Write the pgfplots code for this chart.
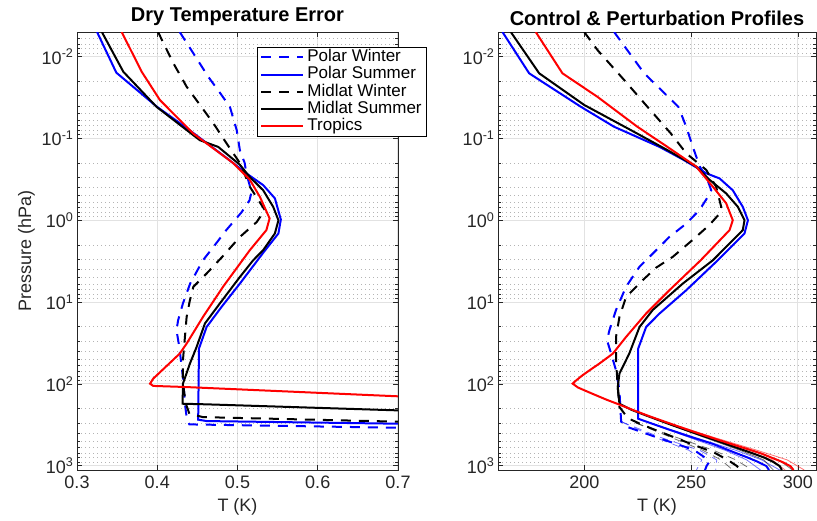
\documentclass[border=0pt]{standalone}
\usepackage{pgfplots}
\pgfplotsset{compat=1.18}
\usepackage{fontspec}
\setmainfont{Liberation Sans}

\definecolor{axgray}{RGB}{38,38,38}
\definecolor{gridgray}{RGB}{226,226,226}
\definecolor{dotgray}{RGB}{180,180,180}

\begin{document}
\begin{tikzpicture}[x=1pt,y=1pt]
\useasboundingbox (0,0) rectangle (817,520);

% ---------------- dry temperature error ----------------
\begin{axis}[
  at={(77pt,50pt)}, anchor=south west,
  scale only axis, width=321pt, height=438pt,
  ymode=log, y dir=reverse, ymin=0.005, ymax=1130,
  ytick={0.01,0.1,1,10,100,1000},
  yticklabels={10\textsuperscript{-2},10\textsuperscript{-1},10\textsuperscript{0},10\textsuperscript{1},10\textsuperscript{2},10\textsuperscript{3}},
  minor ytick={0.006,0.007,0.008,0.009,0.02,0.03,0.04,0.05,0.06,0.07,0.08,0.09,
               0.2,0.3,0.4,0.5,0.6,0.7,0.8,0.9,2,3,4,5,6,7,8,9,
               20,30,40,50,60,70,80,90,200,300,400,500,600,700,800,900},
  xmin=0.3, xmax=0.7,
  xtick={0.3,0.4,0.5,0.6,0.7}, xticklabels={0.3,0.4,0.5,0.6,0.7},
  tick align=inside, major tick length=5pt, minor tick length=3pt,
  xmajorgrids, ymajorgrids, yminorgrids,
  major grid style={gridgray, line width=1pt},
  minor grid style={dotgray, line width=0.7pt, dash pattern=on 0.8pt off 3.2pt},
  axis line style={axgray, line width=0.7pt},
  tick style={axgray, line width=0.7pt},
  tick label style={font=\fontsize{18}{20}\selectfont, text=axgray},
  xticklabel style={yshift=-2pt},
  xlabel style={font=\fontsize{18}{20}\selectfont, text=axgray, yshift=-3pt},
  ylabel style={font=\fontsize{18}{20}\selectfont, text=axgray},
  title style={font=\bfseries\fontsize{20}{22}\selectfont, yshift=-3pt},
  xlabel={T (K)},
  ylabel={Pressure (hPa)},
  title={Dry Temperature Error},
  legend style={at={(0.561,0.9658)}, anchor=north west, draw=black,
    line width=0.6pt, fill=white, font=\fontsize{17}{18}\selectfont,
    inner xsep=3pt, inner ysep=1.5pt, row sep=0pt, column sep=1pt,
    nodes={inner xsep=2pt, inner ysep=1pt, text height=12pt, text depth=3.2pt}},
  legend cell align=left,
  legend image code/.code={\draw[#1, line width=2pt] (0pt,0pt) -- (42pt,0pt);},
]
\addplot[blue, line width=2pt, dash pattern=on 10pt off 8pt] coordinates {
 (0.428,0.005) (0.449,0.0105) (0.4635,0.0176) (0.4785,0.028) (0.4905,0.041)
 (0.499,0.079) (0.503,0.14) (0.509,0.20) (0.511,0.267) (0.5175,0.45)
 (0.515,0.57) (0.505,0.80) (0.486,1.32) (0.470,2.12) (0.457,3.08)
 (0.441,5.94) (0.432,10.4) (0.426,16.7) (0.424,22.1) (0.4275,35.5)
 (0.432,82.6) (0.4345,175) (0.4366,255) (0.44,313) (0.70,344) (0.80,350)};
\addlegendentry{Polar Winter}
\addplot[blue, line width=2pt] coordinates {
 (0.325,0.005) (0.349,0.0157) (0.3996,0.041) (0.437,0.075) (0.487,0.175)
 (0.511,0.267) (0.532,0.372) (0.5466,0.54) (0.554,0.98) (0.551,1.45)
 (0.532,2.5) (0.503,5.94) (0.480,11.5) (0.4615,20.2) (0.452,37)
 (0.451,274) (0.4615,285) (0.70,307) (0.80,310)};
\addlegendentry{Polar Summer}
\addplot[black, line width=2pt, dash pattern=on 10pt off 8pt] coordinates {
 (0.401,0.005) (0.420,0.012) (0.4366,0.0233) (0.4698,0.065) (0.4864,0.115)
 (0.503,0.20) (0.5154,0.39) (0.534,0.75) (0.524,1.05) (0.503,1.6)
 (0.481,2.8) (0.4615,4.48) (0.445,6.5) (0.4407,9.5) (0.4366,15.2)
 (0.4345,26.7) (0.432,51.5) (0.432,99.5) (0.4357,175) (0.44,232)
 (0.457,255) (0.70,290) (0.80,292)};
\addlegendentry{Midlat Winter}
\addplot[black, line width=2pt] coordinates {
 (0.331,0.005) (0.3577,0.0153) (0.399,0.041) (0.453,0.105) (0.476,0.127)
 (0.503,0.21) (0.515,0.294) (0.532,0.43) (0.5445,0.686) (0.551,1.0)
 (0.5466,1.45) (0.532,2.32) (0.5196,3.08) (0.503,4.93) (0.478,10.4)
 (0.4594,18.3) (0.449,35.5) (0.4407,56.6) (0.432,99.5) (0.4316,175)
 (0.4615,178) (0.70,211) (0.80,215)};
\addlegendentry{Midlat Summer}
\addplot[red, line width=2pt] coordinates {
 (0.3557,0.005) (0.3806,0.0153) (0.4034,0.034) (0.4448,0.087) (0.4946,0.20)
 (0.5154,0.32) (0.528,0.52) (0.540,0.95) (0.536,1.32) (0.5154,2.32)
 (0.482,6.5) (0.457,15.2) (0.4366,32.2) (0.428,42.7) (0.395,86.3)
 (0.391,99.5) (0.395,106) (0.432,109) (0.70,142) (0.80,146)};
\addlegendentry{Tropics}
\end{axis}

% ---------------- control and perturbation profiles ----------------
\begin{axis}[
  at={(498pt,50pt)}, anchor=south west,
  scale only axis, width=318pt, height=438pt,
  ymode=log, y dir=reverse, ymin=0.005, ymax=1130,
  ytick={0.01,0.1,1,10,100,1000},
  yticklabels={10\textsuperscript{-2},10\textsuperscript{-1},10\textsuperscript{0},10\textsuperscript{1},10\textsuperscript{2},10\textsuperscript{3}},
  minor ytick={0.006,0.007,0.008,0.009,0.02,0.03,0.04,0.05,0.06,0.07,0.08,0.09,
               0.2,0.3,0.4,0.5,0.6,0.7,0.8,0.9,2,3,4,5,6,7,8,9,
               20,30,40,50,60,70,80,90,200,300,400,500,600,700,800,900},
  xmin=159.5, xmax=308.5,
  xtick={200,250,300}, xticklabels={200,250,300},
  tick align=inside, major tick length=5pt, minor tick length=3pt,
  xmajorgrids, ymajorgrids, yminorgrids,
  major grid style={gridgray, line width=1pt},
  minor grid style={dotgray, line width=0.7pt, dash pattern=on 0.8pt off 3.2pt},
  axis line style={axgray, line width=0.7pt},
  tick style={axgray, line width=0.7pt},
  tick label style={font=\fontsize{18}{20}\selectfont, text=axgray},
  xticklabel style={yshift=-2pt},
  xlabel style={font=\fontsize{18}{20}\selectfont, text=axgray, yshift=-3pt},
  title style={font=\bfseries\fontsize{20}{22}\selectfont, yshift=-3pt},
  xlabel={T (K)},
  title={Control \& Perturbation Profiles},
]
% perturbed profiles (lower atmosphere)
\addplot[blue, line width=0.8pt, opacity=0.55, dash pattern=on 8pt off 6pt] coordinates {(217.2,290) (233,450) (249,650) (255,850) (252.5,1130)};
\addplot[blue, line width=0.8pt, opacity=0.55, dash pattern=on 8pt off 6pt] coordinates {(217.2,290) (235.5,450) (254,650) (262,850) (261.5,1130)};
\addplot[black, line width=0.8pt, opacity=0.55, dash pattern=on 8pt off 6pt] coordinates {(224,300) (240.5,450) (255.5,650) (264,850) (269.5,1130)};
\addplot[black, line width=0.8pt, opacity=0.55, dash pattern=on 8pt off 6pt] coordinates {(224,300) (243,450) (260.5,650) (271,850) (278.5,1130)};
\addplot[blue, line width=0.8pt, opacity=0.55] coordinates {(230.8,300) (249,450) (266,650) (276,850) (282.5,1130)};
\addplot[blue, line width=0.8pt, opacity=0.55] coordinates {(230.8,300) (251.5,450) (271,650) (283,850) (291.5,1130)};
\addplot[black, line width=0.8pt, opacity=0.55] coordinates {(238,300) (256,450) (273,650) (284,850) (288.5,1130)};
\addplot[black, line width=0.8pt, opacity=0.55] coordinates {(238,300) (258.5,450) (278,650) (291,850) (297.5,1130)};
\addplot[red, line width=0.8pt, opacity=0.55] coordinates {(239.5,300) (258,450) (276,650) (288,850) (294,1130)};
\addplot[red, line width=0.8pt, opacity=0.55] coordinates {(239.5,300) (260.5,450) (281,650) (295,850) (303,1130)};
% control profiles
\addplot[blue, line width=2pt, dash pattern=on 10pt off 8pt] coordinates {
 (213.9,0.005) (228,0.016) (244,0.041) (247.7,0.072) (250.8,0.127)
 (254,0.22) (257.1,0.293) (259.4,0.43) (257.8,0.52) (253.9,0.75)
 (247.7,1.10) (239.8,1.6) (232,2.56) (225.8,3.7) (219.5,6.5)
 (214.8,12.5) (211.7,22.1) (210.6,29.4) (212.5,42.7) (214.8,68.4)
 (216.4,120) (216.8,192) (217.2,290) (220.6,340) (227.3,392)
 (234.1,452) (240.9,520) (247.7,596) (252.7,681) (255.9,778)
 (258.6,887) (257.2,1013) (256.5,1130)};
\addplot[blue, line width=2pt] coordinates {
 (161.6,0.005) (174.1,0.016) (198.3,0.041) (213.9,0.072) (235.2,0.127)
 (246,0.18) (257.1,0.267) (263.3,0.308) (269.5,0.43) (274.2,0.686)
 (276.6,1.0) (275,1.45) (262.5,3.08) (247.7,7.17) (235.2,13.8)
 (228.9,20.2) (225.2,37) (225.2,267) (232.2,310) (239.2,359)
 (246.1,413) (253.1,474) (260.1,541) (265.5,616) (270.9,700)
 (276.3,792) (281.2,896) (285.2,1010) (286.5,1130)};
\addplot[black, line width=2pt, dash pattern=on 10pt off 8pt] coordinates {
 (199.9,0.005) (206.1,0.0083) (218.6,0.0193) (229.5,0.041) (240.5,0.087)
 (247.7,0.152) (257.1,0.243) (261.7,0.39) (264.1,0.686) (263.3,0.83)
 (258.6,1.14) (250.8,1.73) (241.4,2.8) (233.6,3.8) (227.3,5.4)
 (219.5,8.7) (216.4,15.2) (214.8,26.7) (214.8,51.5) (215.6,109)
 (216.4,192) (218.8,232) (220.5,264) (226,307) (232,356)
 (238,410) (244,471) (249.7,540) (255.7,616) (261.2,701)
 (265,795) (268.5,898) (271.5,1013) (273,1130)};
\addplot[black, line width=2pt] coordinates {
 (165.5,0.005) (178.8,0.016) (199.9,0.039) (221.7,0.079) (238.9,0.139)
 (252.3,0.22) (258.6,0.32) (266.4,0.47) (271.9,0.686) (275,1.0)
 (274.2,1.32) (260.2,3.08) (246.1,5.94) (232,12.5) (225.8,20.2)
 (221,42.7) (216.4,75) (215.6,109) (216.4,175) (222.3,209)
 (228.8,243) (235.3,281) (241.7,324) (248.2,372) (254.7,426)
 (261.2,487) (267.2,554) (273.2,628) (279,710) (284.5,802)
 (288.5,902) (291.5,1013) (292.5,1130)};
\addplot[red, line width=2pt] coordinates {
 (177.2,0.005) (189.7,0.016) (206.1,0.031) (224.8,0.072) (238.9,0.127)
 (252.3,0.22) (260.2,0.39) (266.4,0.62) (269.5,1.0) (268,1.32)
 (254.5,3.08) (239.8,7.17) (228.9,13.8) (219.5,26.7) (213.3,42.7)
 (207,56.5) (203,66.6) (199,78.9) (195.5,93.7) (194.5,99.5)
 (197,111) (203.7,132) (210.3,156) (217,182) (223.6,213)
 (230.1,247) (237,286) (243.6,329) (250.3,378) (257,432)
 (263.6,492) (270.3,559) (277,633) (283.2,715) (288,805)
 (292.8,904) (296.5,1013) (298,1130)};
\end{axis}
\end{tikzpicture}
\end{document}
